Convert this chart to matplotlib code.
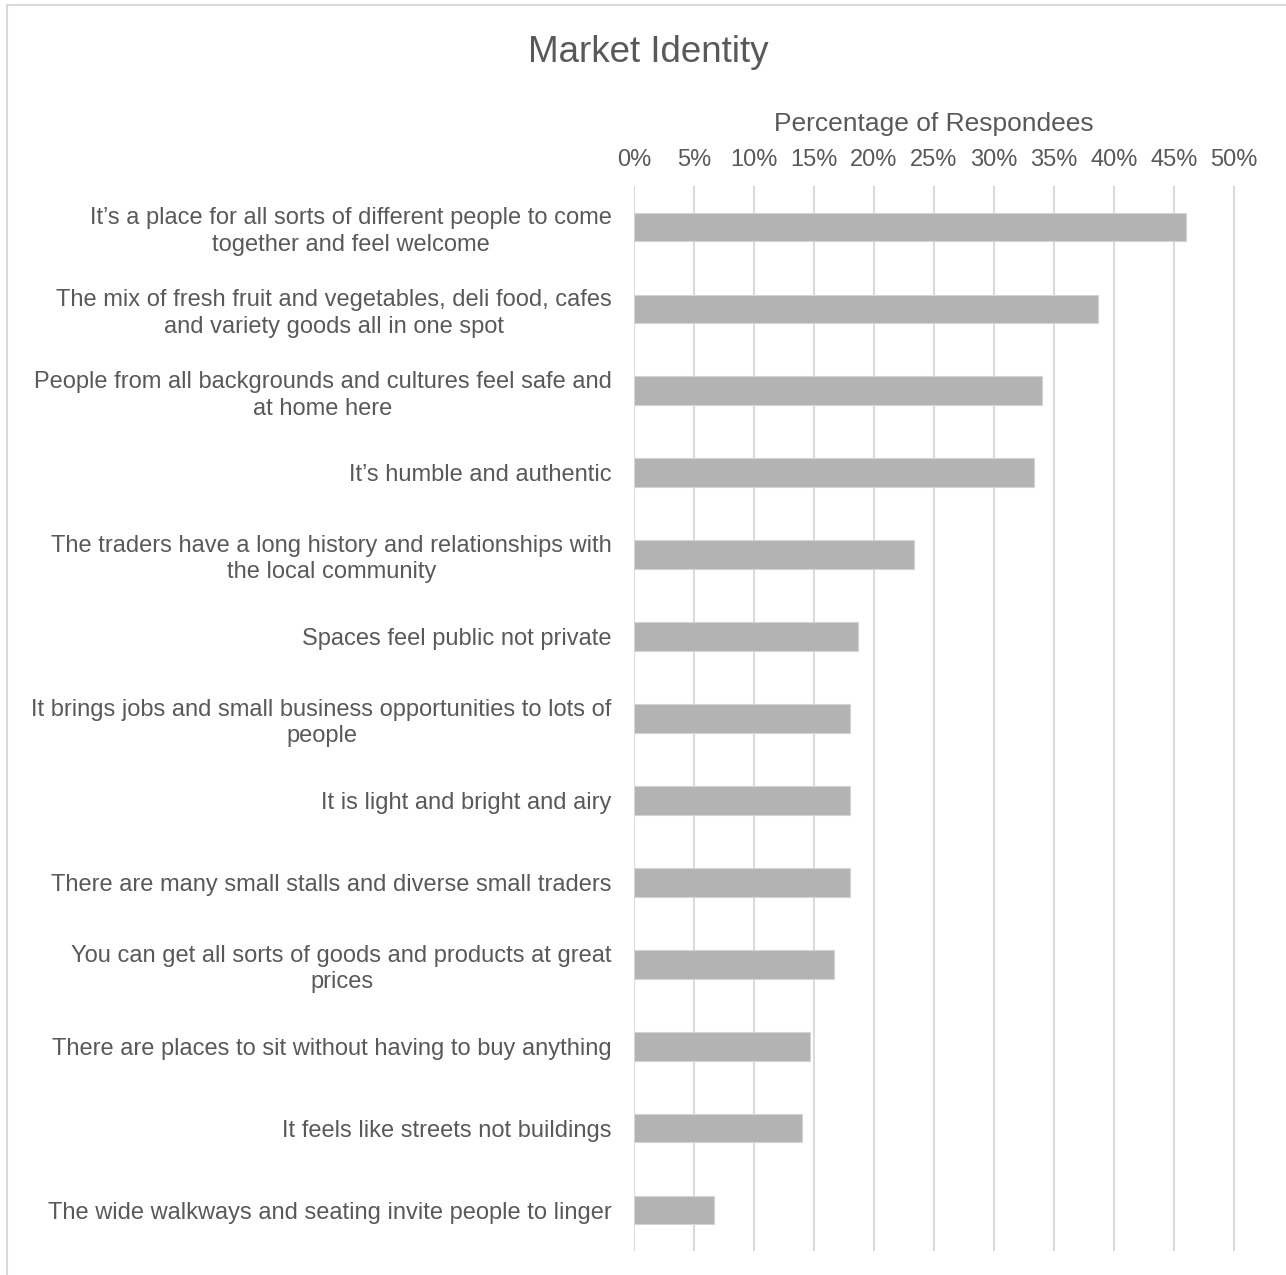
import matplotlib.pyplot as plt
from matplotlib.patches import Rectangle
from matplotlib.ticker import FuncFormatter

plt.rcParams['font.family'] = ['Liberation Sans', 'DejaVu Sans']

# survey answers, top to bottom
reponses = [
    "It\u2019s a place for all sorts of different people to come\ntogether and feel welcome",
    "The mix of fresh fruit and vegetables, deli food, cafes\nand variety goods all in one spot",
    "People from all backgrounds and cultures feel safe and\nat home here",
    "It\u2019s humble and authentic",
    "The traders have a long history and relationships with\nthe local community",
    "Spaces feel public not private",
    "It brings jobs and small business opportunities to lots of\npeople",
    "It is light and bright and airy",
    "There are many small stalls and diverse small traders",
    "You can get all sorts of goods and products at great\nprices",
    "There are places to sit without having to buy anything",
    "It feels like streets not buildings",
    "The wide walkways and seating invite people to linger",
]
pourcentages = [46.0, 38.7, 34.0, 33.3, 23.3, 18.7, 18.0, 18.0, 18.0, 16.7, 14.7, 14.0, 6.7]
graduations = [0, 5, 10, 15, 20, 25, 30, 35, 40, 45, 50]

gris_texte = '#595959'

fig = plt.figure(figsize=(12.86, 12.75), dpi=100)
ax = fig.add_axes([0.493, 0.0188, 0.4806, 0.8353])

y = list(range(len(reponses)))
ax.barh(y, pourcentages, height=0.35, color='#b3b3b3', edgecolor='#d4d4d4',
        linewidth=0.8, zorder=3)

ax.set_ylim(len(reponses) - 0.5, -0.5)
ax.set_xlim(0, 51.5)
ax.set_xticks(graduations)
ax.xaxis.set_major_formatter(FuncFormatter(lambda v, p: f"{v:.0f}%"))
ax.xaxis.tick_top()
ax.tick_params(axis='x', length=0, pad=11, labelsize=17, labelcolor=gris_texte)
ax.set_yticks(y)
ax.set_yticklabels(reponses, multialignment='center', linespacing=1.25)
ax.tick_params(axis='y', length=0, pad=16, labelsize=17, labelcolor=gris_texte)

ax.grid(axis='x', color='#d9d9d9', linewidth=1.4, zorder=0)
for s in ax.spines.values():
    s.set_visible(False)

ax.xaxis.set_label_position('top')
ax.set_xlabel("Percentage of Respondees", fontsize=19, color=gris_texte, va='center')
ax.xaxis.set_label_coords(0.4854, 1.058)

fig.text(0.504, 0.9592, "Market Identity", fontsize=26.5, color=gris_texte,
         ha='center', va='center')

# chart area border
fig.patches.append(Rectangle((7 / 1286, -0.1), 1.2, 1.1 - 5 / 1275,
                             transform=fig.transFigure, fill=False,
                             edgecolor='#d9d9d9', linewidth=1.5))

fig.savefig('out.png', dpi=100)
